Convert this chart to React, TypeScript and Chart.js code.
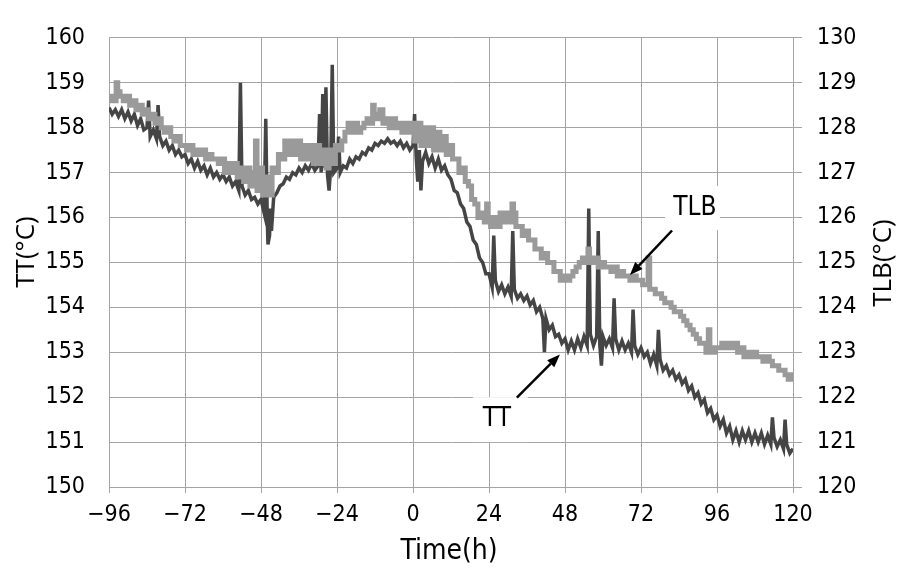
import React, { useEffect, useRef } from "react";
import { Chart, registerables } from "chart.js";
Chart.register(...registerables);

// ---------------- data ----------------
const startHour = -96;
const endHour = 120;
const xTickValues = [-96, -72, -48, -24, 0, 24, 48, 72, 96, 120];

// TT (left axis), hourly readings from t = -96 h to t = 120 h
const ttValues = [
  158.45, 158.3, 158.4, 158.25, 158.4, 158.2, 158.35, 158.15, 158.3, 158.05, 158.2, 157.95,
  158.0, 157.8, 157.95, 157.75, 157.8, 157.6, 157.7, 157.5, 157.6, 157.4, 157.5, 157.35,
  157.4, 157.2, 157.3, 157.1, 157.25, 157.05, 157.15, 156.95, 157.1, 156.9, 157.0, 156.85,
  156.95, 156.8, 156.9, 156.7, 156.8, 156.6, 156.7, 156.5, 156.6, 156.4, 156.45, 156.3,
  156.4, 156.1, 155.9, 156.2, 156.45, 156.55, 156.7, 156.75, 156.9, 156.85, 157.0, 156.95,
  157.1, 157.0, 157.15, 157.05, 157.2, 157.05, 157.15, 157.0, 157.1, 156.95, 157.1, 157.0,
  157.1, 157.0, 157.15, 157.1, 157.3, 157.2, 157.35, 157.3, 157.45, 157.4, 157.55, 157.5,
  157.65, 157.6, 157.7, 157.65, 157.75, 157.65, 157.7, 157.6, 157.7, 157.55, 157.65, 157.5,
  157.6, 157.35, 157.5, 157.25, 157.45, 157.2, 157.35, 157.1, 157.3, 157.05, 157.15, 156.95,
  156.85, 156.6, 156.55, 156.3, 156.2, 155.9, 155.8, 155.5, 155.4, 155.1, 155.0, 154.75,
  154.75, 154.45, 154.6, 154.35, 154.5, 154.3, 154.45, 154.25, 154.4, 154.2, 154.3, 154.15,
  154.25, 154.05, 154.15, 153.9, 154.0, 153.75, 153.75, 153.5, 153.6, 153.35, 153.4, 153.2,
  153.3, 153.05, 153.25, 153.05, 153.3, 153.1, 153.35, 153.15, 153.4, 153.15, 153.35, 153.15,
  153.35, 153.15, 153.3, 153.1, 153.3, 153.05, 153.25, 153.05, 153.2, 153.0, 153.15, 152.95,
  153.1, 152.9, 153.0, 152.75, 152.95, 152.7, 152.85, 152.6, 152.7, 152.5, 152.6, 152.4,
  152.5, 152.3, 152.4, 152.15, 152.25, 152.0, 152.1, 151.85, 151.95, 151.65, 151.75, 151.5,
  151.6, 151.35, 151.5, 151.2, 151.35, 151.05, 151.25, 151.0, 151.25, 151.05, 151.25, 151.0,
  151.2, 151.0, 151.2, 150.95, 151.15, 150.95, 151.1, 150.9, 151.05, 150.85, 150.95, 150.75,
  150.85,
];
// TT short spikes
const ttSpikeTimes = [-83.5, -80.5, -54.5, -46.5, -45.8, -45.3, -44.7, -29.5, -28.5, -27.5, -26.5, -25.5, -23.5, 0.5, 1.5, 2.5, 25.5, 31.5, 41.5, 55.5, 58.5, 59.5, 63.5, 69.5, 77.5, 113.5, 117.5];
const ttSpikeValues = [158.6, 158.5, 159.0, 158.2, 155.4, 155.6, 155.7, 158.3, 158.75, 158.9, 156.6, 159.4, 157.8, 158.3, 156.8, 156.6, 155.6, 155.7, 153.0, 156.2, 155.7, 152.7, 154.2, 153.95, 153.5, 151.55, 151.5];

// TLB (right axis), hourly readings from t = -96 h to t = 120 h
const tlbValues = [
  128.6, 128.7, 128.6, 128.8, 128.7, 128.6, 128.7, 128.5, 128.6, 128.4, 128.5, 128.3,
  128.4, 128.2, 128.3, 128.1, 128.2, 128.0, 127.9, 128.0, 127.8, 127.7, 127.8, 127.6,
  127.6, 127.5, 127.6, 127.4, 127.5, 127.4, 127.5, 127.3, 127.4, 127.3, 127.3, 127.2,
  127.3, 127.0, 127.2, 127.0, 127.2, 126.9, 127.1, 126.8, 127.1, 126.7, 127.0, 126.6,
  127.1, 126.5, 126.9, 126.5, 127.1, 127.0, 127.4, 127.3, 127.7, 127.4, 127.7, 127.4,
  127.7, 127.3, 127.6, 127.3, 127.6, 127.2, 127.6, 127.2, 127.5, 127.1, 127.5, 127.2,
  127.6, 127.5, 127.7, 127.9, 128.1, 127.9, 128.1, 127.9, 128.0, 128.1, 128.2, 128.1,
  128.3, 128.2, 128.4, 128.1, 128.2, 128.0, 128.2, 128.0, 128.1, 127.9, 128.1, 127.9,
  128.1, 127.7, 128.1, 127.6, 128.0, 127.6, 128.0, 127.5, 127.9, 127.5, 127.8, 127.4,
  127.6, 127.3, 127.3, 127.0, 127.1, 126.8, 126.7, 126.4, 126.3, 126.0, 126.1, 125.9,
  126.0, 125.8, 126.0, 125.8, 126.1, 125.9, 126.1, 125.9, 126.1, 125.8, 125.8, 125.6,
  125.7, 125.5, 125.5, 125.3, 125.3, 125.1, 125.2, 125.0, 125.0, 124.8, 124.8, 124.6,
  124.7, 124.6, 124.7, 124.8, 124.9, 125.0, 125.1, 125.0, 125.1, 125.0, 125.1, 124.9,
  125.0, 124.9, 124.9, 124.8, 124.9, 124.7, 124.8, 124.7, 124.7, 124.6, 124.7, 124.6,
  124.6, 124.5, 124.5, 124.4, 124.4, 124.3, 124.3, 124.2, 124.1, 124.1, 124.0, 123.9,
  123.9, 123.8, 123.7, 123.6, 123.5, 123.4, 123.3, 123.2, 123.2, 123.0, 123.1, 123.0,
  123.1, 123.1, 123.2, 123.1, 123.2, 123.1, 123.2, 123.0, 123.1, 122.9, 123.0, 122.9,
  123.0, 122.9, 122.9, 122.8, 122.9, 122.8, 122.7, 122.7, 122.6, 122.6, 122.5, 122.4,
  122.5,
];
const tlbSpikeTimes = [-93.5, -49.5, -12.5, 23.5, 31.5, 55.5, 74.5, 93.5];
const tlbSpikeValues = [129.0, 127.7, 128.5, 126.3, 126.3, 125.3, 125.1, 123.5];

// ---------------- helpers ----------------
function buildPoints(values: number[], spikeT: number[], spikeV: number[]) {
  const pts = values.map((v, i) => ({ x: startHour + i, y: v }));
  spikeT.forEach((t, i) => pts.push({ x: t, y: spikeV[i] }));
  pts.sort((a, b) => a.x - b.x);
  return pts;
}

const TICK_FONT = "'Liberation Sans Narrow', 'DejaVu Sans Condensed', sans-serif";
const TITLE_FONT = "'Open Sans', 'Liberation Sans', sans-serif";
const GRID = "#a4a4a4";

// annotation callouts in data coordinates (x: hours, y: left axis)
const callouts = [
  { text: "TLB", cx: 89.0, cy: 156.21, box: [79.6, 96.9, 156.7, 155.72], from: [81.8, 155.71], to: [68.5, 154.72] },
  { text: "TT", cx: 26.5, cy: 151.5, box: [18.9, 36.3, 152.0, 151.0], from: [32.8, 151.99], to: [46.4, 152.95] },
];

const overlay = {
  id: "overlay",
  beforeDatasetsDraw(chart: any) {
    const { ctx, scales } = chart;
    const x = scales.x, y = scales.y;
    ctx.save();
    ctx.fillStyle = "#ffffff";
    for (const c of callouts) {
      const x1 = x.getPixelForValue(c.box[0]);
      const x2 = x.getPixelForValue(c.box[1]);
      const y1 = y.getPixelForValue(c.box[2]);
      const y2 = y.getPixelForValue(c.box[3]);
      ctx.fillRect(x1, y1, x2 - x1, y2 - y1);
    }
    ctx.restore();
  },
  afterDatasetsDraw(chart: any) {
    const { ctx, scales } = chart;
    const x = scales.x, y = scales.y;
    ctx.save();
    for (const c of callouts) {
      ctx.fillStyle = "#000";
      ctx.font = `26px ${TICK_FONT}`;
      ctx.textAlign = "center";
      ctx.textBaseline = "middle";
      ctx.fillText(c.text, x.getPixelForValue(c.cx), y.getPixelForValue(c.cy));
      const fx = x.getPixelForValue(c.from[0]);
      const fy = y.getPixelForValue(c.from[1]);
      const tx = x.getPixelForValue(c.to[0]);
      const ty = y.getPixelForValue(c.to[1]);
      const ang = Math.atan2(ty - fy, tx - fx);
      const headLen = 13, headW = 5;
      const bx = tx - headLen * Math.cos(ang);
      const by = ty - headLen * Math.sin(ang);
      ctx.strokeStyle = "#000";
      ctx.lineWidth = 2.5;
      ctx.beginPath();
      ctx.moveTo(fx, fy);
      ctx.lineTo(bx, by);
      ctx.stroke();
      ctx.beginPath();
      ctx.moveTo(tx, ty);
      ctx.lineTo(bx + headW * Math.sin(ang), by - headW * Math.cos(ang));
      ctx.lineTo(bx - headW * Math.sin(ang), by + headW * Math.cos(ang));
      ctx.closePath();
      ctx.fill();
    }
    ctx.restore();
  },
  afterDraw(chart: any) {
    const { ctx, chartArea } = chart;
    ctx.save();
    ctx.fillStyle = "#000";
    ctx.textAlign = "center";
    ctx.textBaseline = "middle";
    ctx.font = `28px ${TICK_FONT}`;
    ctx.fillText("Time(h)", (chartArea.left + chartArea.right) / 2 - 2, 552);
    ctx.font = `26px ${TITLE_FONT}`;
    ctx.translate(27, 252);
    ctx.rotate(-Math.PI / 2);
    ctx.fillText("TT(\u00B0C)", 0, 0);
    ctx.restore();
    ctx.save();
    ctx.fillStyle = "#000";
    ctx.textAlign = "center";
    ctx.textBaseline = "middle";
    ctx.font = `26px ${TITLE_FONT}`;
    ctx.translate(884, 263);
    ctx.rotate(-Math.PI / 2);
    ctx.fillText("TLB(\u00B0C)", 0, 0);
    ctx.restore();
  },
};

export default function App() {
  const ref = useRef<HTMLCanvasElement | null>(null);
  useEffect(() => {
    if (!ref.current) return;
    const ttPts = buildPoints(ttValues, ttSpikeTimes, ttSpikeValues);
    const tlbPts = buildPoints(tlbValues, tlbSpikeTimes, tlbSpikeValues);
    const chart = new Chart(ref.current, {
      type: "line",
      data: {
        datasets: [
          { label: "TLB edge", data: tlbPts, yAxisID: "y2", borderColor: "#9a9a9a", borderWidth: 5, pointRadius: 0, stepped: "middle", tension: 0 },
          { label: "TLB", data: tlbPts, yAxisID: "y2", borderColor: "#cdcdcd", borderWidth: 2.5, pointRadius: 0, stepped: "middle", tension: 0 },
          { label: "TT", data: ttPts, yAxisID: "y", borderColor: "#454545", borderWidth: 3.5, pointRadius: 0, tension: 0 },
        ],
      },
      options: {
        responsive: false,
        animation: false,
        devicePixelRatio: 1,
        parsing: false,
        normalized: true,
        layout: { padding: { top: 21, left: 0, right: 0, bottom: 0 } },
        plugins: { legend: { display: false }, tooltip: { enabled: false } },
        scales: {
          x: {
            type: "linear",
            min: startHour,
            max: endHour,
            afterBuildTicks: (s: any) => { s.ticks = xTickValues.map((v) => ({ value: v })); },
            afterFit: (s: any) => { s.height = 84; },
            ticks: {
              autoSkip: false,
              maxRotation: 0,
              padding: 8,
              color: "#000",
              font: { family: TICK_FONT, size: 23 },
              callback: (v: any) => (Number(v) < 0 ? "\u2212" + Math.abs(Number(v)) : String(v)),
            },
            grid: { color: GRID, tickLength: 6, lineWidth: 1 },
            border: { color: GRID },
          },
          y: {
            type: "linear",
            position: "left",
            min: 150,
            max: 160,
            afterFit: (s: any) => { s.width = 109; },
            ticks: { stepSize: 1, padding: 24, color: "#000", font: { family: TICK_FONT, size: 23 } },
            grid: { color: GRID, drawTicks: false, lineWidth: 1 },
            border: { color: GRID },
          },
          y2: {
            type: "linear",
            position: "right",
            min: 120,
            max: 130,
            afterFit: (s: any) => { s.width = 105; },
            ticks: { stepSize: 1, padding: 15, color: "#000", font: { family: TICK_FONT, size: 23 } },
            grid: { drawOnChartArea: false, color: GRID, tickLength: 9 },
            border: { color: GRID },
          },
        },
      },
      plugins: [overlay],
    } as any);
    return () => chart.destroy();
  }, []);
  return (
    <div style={{ position: "fixed", left: 0, top: 0, width: 898, height: 571, background: "#fff" }}>
      <canvas ref={ref} width={898} height={571} style={{ display: "block" }} />
    </div>
  );
}
